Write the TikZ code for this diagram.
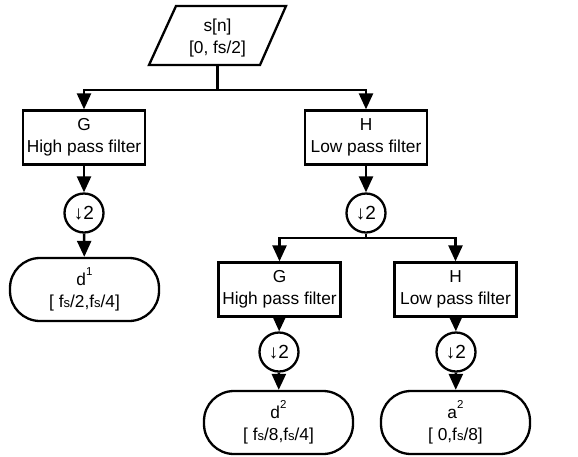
\documentclass[tikz,border=0pt]{standalone}
\usepackage{fontspec}
\setmainfont{Liberation Sans}
\usetikzlibrary{arrows.meta}
\newcommand{\myfs}{f{\fontsize{13}{13}\selectfont s}}
\newcommand{\mysup}[1]{\raisebox{0.55em}{\fontsize{11.5}{11.5}\selectfont #1}}
\begin{document}
\begin{tikzpicture}[x=1pt,y=-1pt,
  every node/.style={font=\fontsize{17.3}{22}\selectfont},
  box/.style={draw, line width=2.3pt, minimum width=122pt, minimum height=54pt, align=center, inner sep=0pt},
  dn/.style={draw, circle, line width=2.3pt, minimum size=39pt, inner sep=0pt, font=\fontsize{19}{19}\selectfont},
  term/.style={draw, rounded corners=30pt, line width=2.3pt, minimum width=149pt, minimum height=63pt, align=center, inner sep=0pt},
  arr/.style={line width=2.5pt, -{Triangle[width=14pt,length=16pt]}},
  ln/.style={line width=2.5pt}]
\useasboundingbox (0,0) rectangle (578,456);
% input
\draw[line width=2.3pt] (176,6) -- (286,6) -- (260,65) -- (149,65) -- cycle;
\node[minimum width=100pt, minimum height=54pt, align=center, inner sep=0pt] (s) at (217.5,38) {s[n]\\{[}0, fs/2]};
\node[box] (G) at (84,137.5) {G\\High pass filter};
\node[box] (H) at (366,137.5) {H\\Low pass filter};
\node[dn] (c1) at (84,213) {↓2};
\node[dn] (c2) at (366,213) {↓2};
\node[term] (d1) at (84.5,289.5) {d\mysup{1}\\{[} \myfs/2,\myfs/4]};
\node[box] (G2) at (279.5,289.5) {G\\High pass filter};
\node[box] (H2) at (455.5,289.5) {H\\Low pass filter};
\node[dn] (c3) at (279,352) {↓2};
\node[dn] (c4) at (456,352) {↓2};
\node[term] (d2) at (278.5,422.5) {d\mysup{2}\\{[} \myfs/8,\myfs/4]};
\node[term] (a2) at (455.5,422.5) {a\mysup{2}\\{[} 0,\myfs/8]};
\coordinate (j1) at (217.5,90);
\coordinate (j2) at (366,238);
% connectors
\draw[ln] (s.south) -- (j1);
\draw[arr] (j1) -| (G.north);
\draw[arr] (j1) -| (H.north);
\draw[arr] (G) -- (c1);
\draw[arr] (H) -- (c2);
\draw[arr] (c1) -- (d1);
\draw[ln] (c2) -- (j2);
\draw[arr] (j2) -| (G2.north);
\draw[arr] (j2) -| (H2.north);
\draw[arr] (G2) -- (c3);
\draw[arr] (H2) -- (c4);
\draw[arr] (c3) -- (d2);
\draw[arr] (c4) -- (a2);
\end{tikzpicture}
\end{document}
